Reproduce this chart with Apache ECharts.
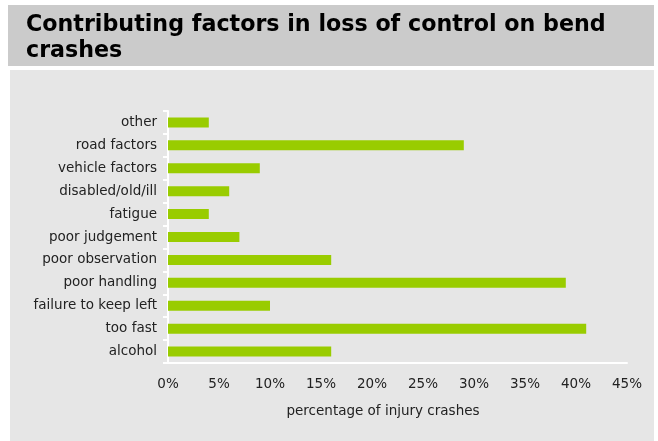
<!DOCTYPE html>
<html>
<head>
<meta charset="utf-8">
<script src="https://cdn.jsdelivr.net/npm/echarts@6/dist/echarts.min.js"></script>
<style>
html,body{margin:0;padding:0;background:#fff;}
#c{width:658px;height:441px;}
</style>
</head>
<body>
<div id="c"></div>
<script>
const categories = ["alcohol","too fast","failure to keep left","poor handling","poor observation","poor judgement","fatigue","disabled/old/ill","vehicle factors","road factors","other"];
const values = [16, 41, 10, 39, 16, 7, 4, 6, 9, 29, 4];
const tickMax = 45;
const tickStep = 5;
const titleText = "Contributing factors in loss of control on bend\ncrashes";
const axisName = "percentage of injury crashes";

const chart = echarts.init(document.getElementById('c'), null, {renderer:'canvas'});
const font = '"DejaVu Sans", sans-serif';
chart.setOption({
  animation:false,
  backgroundColor:'#ffffff',
  graphic:[
    {type:'rect', z:-10, shape:{x:8,y:5,width:646,height:61}, style:{fill:'#cbcbcb'}},
    {type:'rect', z:-10, shape:{x:10,y:70,width:644,height:371}, style:{fill:'#e6e6e6'}},
    {type:'text', z:10, x:26, y:13, style:{text:titleText, font:'bold 22.2px ' + font, fill:'#000', lineHeight:25.3}},
    {type:'text', z:10, x:383, y:411, style:{text:axisName, font:'13.5px ' + font, fill:'#222', align:'center', verticalAlign:'middle'}}
  ],
  grid:{left:168, right:31, top:111, bottom:78, containLabel:false},
  xAxis:{
    type:'value', min:0, max:tickMax, interval:tickStep,
    axisLine:{show:true, lineStyle:{color:'#ffffff', width:2}},
    axisTick:{show:false},
    splitLine:{show:false},
    axisLabel:{formatter:'{value}%', color:'#222', fontFamily:font, fontSize:13.5, margin:14}
  },
  yAxis:{
    type:'category', data:categories, boundaryGap:true,
    axisLine:{show:true, lineStyle:{color:'#ffffff', width:2}},
    axisTick:{show:true, length:5, lineStyle:{color:'#ffffff', width:2}},
    axisLabel:{color:'#222', fontFamily:font, fontSize:13.5, margin:11}
  },
  series:[{
    type:'bar', data:values, barWidth:10,
    itemStyle:{color:'#99cc00'}
  }]
});
</script>
</body>
</html>
